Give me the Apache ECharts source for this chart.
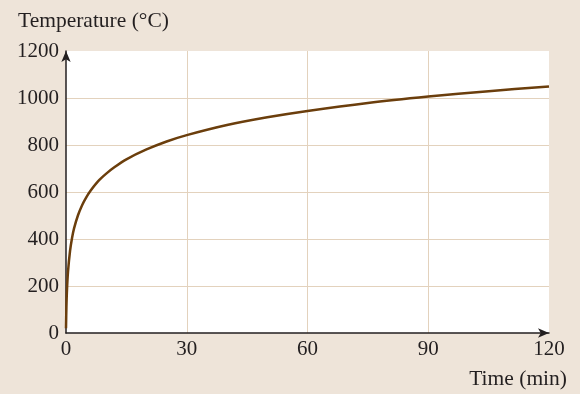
<!DOCTYPE html>
<html><head><meta charset="utf-8">
<script src="https://cdn.jsdelivr.net/npm/echarts@6/dist/echarts.min.js"></script>
<style>html,body{margin:0;padding:0;background:#EEE4D9;}#c{width:580px;height:394px;}</style>
</head><body><div id="c"></div>
<script>
const timeMin = [0, 0.1, 0.25, 0.5, 1, 1.5, 2, 3, 4, 5, 6, 8, 10, 12, 15, 20, 25, 30, 40, 50, 60, 75, 90, 105, 120];
const tempC   = [20, 108, 185, 261, 349, 404, 445, 502, 544, 576, 603, 646, 678, 705, 739, 781, 815, 842, 885, 918, 945, 979, 1006, 1029, 1049];
const xTicks = [0, 30, 60, 90, 120];
const yTicks = [0, 200, 400, 600, 800, 1000, 1200];
const xTitle = 'Time (min)';
const yTitle = 'Temperature (°C)';

const font = '"Liberation Serif", "Times New Roman", serif';
const chart = echarts.init(document.getElementById('c'));
chart.setOption({
  backgroundColor: '#EEE4D9',
  animation: false,
  grid: {left: 66, right: 31, top: 51, bottom: 61, show: true, backgroundColor: '#ffffff', borderWidth: 0},
  xAxis: {
    type: 'value', min: xTicks[0], max: xTicks[xTicks.length-1], interval: 30,
    axisLine: {lineStyle: {color: '#231F20', width: 1.5}, symbol: ['none', 'arrow'], symbolSize: [7, 11]},
    axisTick: {show: false},
    axisLabel: {color: '#231F20', fontFamily: font, fontSize: 21, margin: 6, formatter: v => String(v)},
    splitLine: {show: true, showMinLine: false, showMaxLine: false, lineStyle: {color: '#E3D2BD', width: 1}}
  },
  yAxis: {
    type: 'value', min: yTicks[0], max: yTicks[yTicks.length-1], interval: 200,
    axisLine: {show: true, lineStyle: {color: '#231F20', width: 1.5}, symbol: ['none', 'arrow'], symbolSize: [7, 11]},
    axisTick: {show: false},
    axisLabel: {color: '#231F20', fontFamily: font, fontSize: 21, margin: 7, formatter: v => String(v)},
    splitLine: {show: true, showMinLine: false, showMaxLine: false, lineStyle: {color: '#E3D2BD', width: 1}}
  },
  graphic: [
    {type: 'text', left: 18, top: 10, style: {text: yTitle, font: '21.5px ' + font, fill: '#231F20'}},
    {type: 'text', right: 13, top: 368, style: {text: xTitle, font: '21.5px ' + font, fill: '#231F20'}}
  ],
  series: [{
    type: 'line', smooth: 0.3, showSymbol: false,
    data: timeMin.map((t, i) => [t, tempC[i]]),
    lineStyle: {color: '#6B3E0C', width: 2.5}
  }]
});
</script></body></html>
